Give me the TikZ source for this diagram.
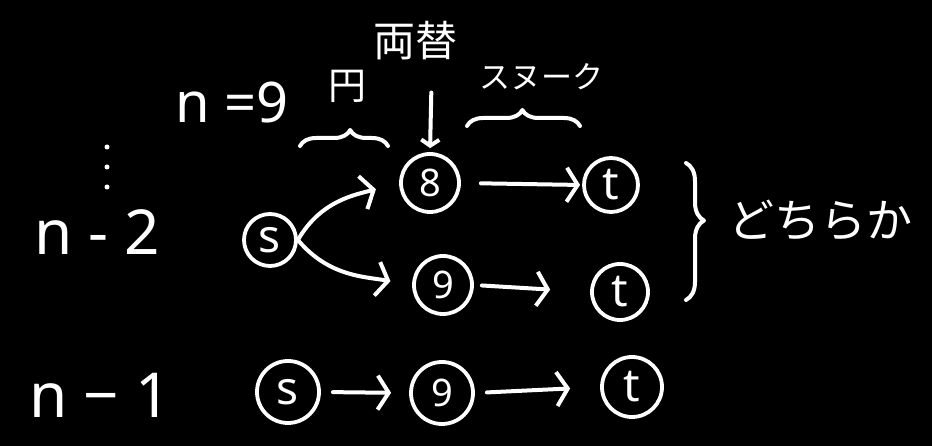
\documentclass[tikz,border=0pt]{standalone}
\usepackage{fontspec}
\setmainfont{Noto Sans}
\newfontfamily\jp{Noto Sans CJK JP}
\usetikzlibrary{arrows.meta,decorations.pathreplacing}
\begin{document}
\begin{tikzpicture}[x=1pt,y=1pt,
  every node/.style={text=white},
  ink/.style={draw=white, line width=4pt, line cap=round, line join=round},
  vert/.style={circle, draw=white, line width=3.8pt, minimum size=#1, inner sep=0pt, font=\fontsize{38}{38}\selectfont},
  vert/.default=54pt,
  big/.style={font=\fontsize{46}{46}\selectfont},
  arr/.style={ink, -{Straight Barb[length=11pt,width=34pt]}},
  brc/.style={ink, decorate, decoration={brace, amplitude=#1}},
  lbl/.style={font=\fontsize{#1}{#1}\selectfont, inner sep=0pt},
  jlbl/.style={font=\jp\fontsize{#1}{#1}\selectfont, inner sep=0pt},
]
\fill[black] (0,0) rectangle (932,446);
\useasboundingbox (0,0) rectangle (932,446);

% row labels
\node[lbl=62] (r2) at (97,214) {n - 2};
\node[lbl=62] (r1) at (100,51) {n − 1};
\fill[white] (107,299) circle (2.5pt) (107,279) circle (2.5pt) (107,259) circle (2.5pt);

% top annotations
\node[lbl=56] (n9) at (232,343) {n =9};
\node[jlbl=38] (en) at (347,360) {円};
\node[jlbl=42] (ryo) at (415,405) {両替};
\node[jlbl=31] (snk) at (541,369) {スヌーク};
\node[jlbl=46] (dochi) at (820,226) {どちらか};

% vertices, row n-2
\node[vert=52pt, big] (s1) at (270,206) {s};
\node[vert=58pt] (a8) at (430,263) {8};
\node[vert=54pt, big] (t1) at (611,261) {t};
\node[vert=58pt] (a9) at (443,161) {9};
\node[vert=56pt, big] (t2) at (620,154) {t};
% vertices, row n-1
\node[vert=62pt, big] (s2) at (288,54) {s};
\node[vert=62pt] (b9) at (442,53) {9};
\node[vert=60pt, big] (t3) at (632,59) {t};

% arrows
\draw[arr, shorten >=24pt] (s1.east) to[out=60, in=195] (a8.west);
\draw[arr, shorten >=22pt] (s1.east) to[out=-50, in=170] (a9.west);
\draw[arr, shorten <=20pt, shorten >=2pt] (a8.east) -- (t1.west);
\draw[arr, shorten <=8pt, shorten >=40pt] (a9.east) -- (t2.west);
\draw[arr, shorten <=12pt, shorten >=18pt] (s2.east) -- (b9.west);
\draw[arr, shorten <=12pt, shorten >=30pt] (b9.east) -- (t3.west);
\draw[ink, -{Straight Barb[length=6pt,width=18pt]}, shorten <=32pt, shorten >=4pt] (ryo.south) ++(17,0) coordinate (ra) (ra) -- (a8.north);

% braces
\draw[brc=16pt, decoration={aspect=0.57}] (300,300) -- (388,300);
\draw[brc=16pt, decoration={aspect=0.49}] (467,320) -- (580,320);
\draw[brc=18pt, decoration={aspect=0.42}] (686,283) -- (686,146);
\end{tikzpicture}
\end{document}
